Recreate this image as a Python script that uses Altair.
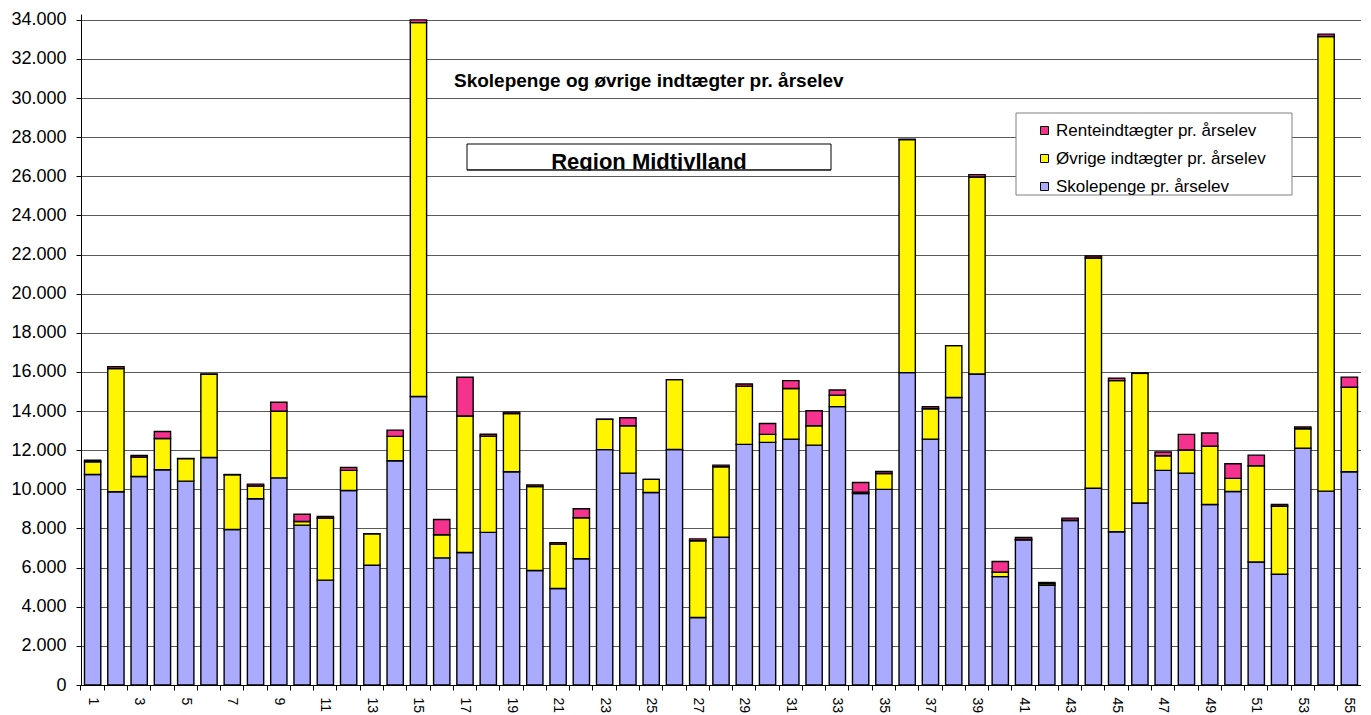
import altair as alt
import pandas as pd

# ---- data ----
skolenr = list(range(1, 56))

skolepenge = [10760, 9880, 10660, 11000, 10420, 11630, 7950, 9520, 10590, 8170,
              5360, 9940, 6120, 11460, 14750, 6500, 6770, 7800, 10900, 5850,
              4930, 6450, 12030, 10830, 9840, 12040, 3450, 7560, 12300, 12400,
              12570, 12260, 14230, 9790, 10000, 15970, 12570, 14700, 15900, 5540,
              7420, 5100, 8410, 10060, 7830, 9300, 10970, 10830, 9230, 9890,
              6290, 5660, 12110, 9910, 10900]

ovrige = [650, 6290, 990, 1600, 1150, 4250, 2800, 650, 3400, 190,
          3170, 1030, 1610, 1250, 19110, 1180, 6980, 4920, 2970, 4300,
          2270, 2100, 1550, 2420, 670, 3570, 3920, 3600, 2980, 410,
          2590, 990, 590, 70, 810, 11910, 1550, 2650, 10070, 230,
          20, 80, 20, 11770, 7730, 6630, 750, 1180, 2980, 670,
          4920, 3480, 990, 23240, 4320]

rente = [80, 100, 80, 360, 10, 20, 10, 100, 460, 370,
         80, 150, 0, 320, 140, 780, 1980, 100, 80, 80,
         80, 460, 10, 410, 0, 0, 100, 80, 110, 560,
         400, 770, 260, 490, 100, 20, 100, 0, 120, 540,
         100, 60, 100, 100, 120, 20, 190, 800, 670, 750,
         540, 90, 90, 120, 520]

series_names = ["Renteindtægter pr. årselev",
                "Øvrige indtægter pr. årselev",
                "Skolepenge pr. årselev"]
series_colors = ["#F5338F", "#FFF500", "#AAAAFF"]
y_ticks = list(range(0, 34001, 2000))
chart_title = "Skolepenge og øvrige indtægter pr. årselev"
region_label = "Region Midtjylland"

# ---- long table for the stacked bars ----
rows = []
for i, n in enumerate(skolenr):
    rows.append({"n": n, "serie": series_names[2], "v": skolepenge[i], "ord": 0})
    rows.append({"n": n, "serie": series_names[1], "v": ovrige[i], "ord": 1})
    rows.append({"n": n, "serie": series_names[0], "v": rente[i], "ord": 2})
df = pd.DataFrame(rows)

FONT = "Liberation Sans"
W, H = 1280, 671

bars = alt.Chart(df).mark_bar(stroke="black", strokeWidth=1.4).encode(
    x=alt.X(
        "n:O",
        scale=alt.Scale(paddingInner=0.3, paddingOuter=0.15),
        axis=alt.Axis(
            title=None,
            labelAngle=90,
            labelExpr="datum.value % 2 == 1 ? datum.label : ''",
            bandPosition=-0.2143,
            tickSize=5,
            tickColor="black",
            domainColor="black",
            labelFontSize=14,
            labelPadding=7,
            labelColor="black",
            labelFont=FONT,
            grid=False,
        ),
    ),
    y=alt.Y(
        "v:Q",
        stack="zero",
        scale=alt.Scale(domain=[0, 34300], nice=False, zero=True),
        axis=alt.Axis(
            title=None,
            values=y_ticks,
            labelExpr="replace(format(datum.value, ','), ',', '.')",
            labelFontSize=18,
            labelPadding=10,
            labelColor="black",
            labelFont=FONT,
            tickSize=5,
            tickColor="black",
            domainColor="black",
            grid=True,
            gridColor="#5a5a5a",
            gridWidth=1,
        ),
    ),
    color=alt.Color(
        "serie:N",
        scale=alt.Scale(domain=series_names, range=series_colors),
        legend=alt.Legend(
            title=None,
            orient="none",
            legendX=955,
            legendY=108,
            padding=0,
            symbolType="square",
            symbolSize=64,
            symbolStrokeColor="black",
            symbolStrokeWidth=1,
            labelFontSize=17,
            labelFont=FONT,
            labelColor="black",
            labelLimit=400,
            labelOffset=3,
            rowPadding=10,
        ),
    ),
    order=alt.Order("ord:Q", sort="ascending"),
)

one = pd.DataFrame({"t": [chart_title]})
reg = pd.DataFrame({"t": [region_label]})

title_text = alt.Chart(one).mark_text(
    align="left", baseline="middle", fontSize=19, fontWeight="bold", font=FONT, color="black"
).encode(x=alt.value(373), y=alt.value(67), text="t:N")

region_box = alt.Chart(reg).mark_rect(fill="white", stroke="black", strokeWidth=1).encode(
    x=alt.value(386), x2=alt.value(750), y=alt.value(130), y2=alt.value(156)
)
region_text = alt.Chart(reg).mark_text(
    align="center", baseline="alphabetic", fontSize=22, fontWeight="bold", font=FONT, color="black"
).encode(x=alt.value(568), y=alt.value(155), text="t:N")
region_cover = alt.Chart(reg).mark_rect(fill="white", stroke=None).encode(
    x=alt.value(385), x2=alt.value(751), y=alt.value(156.8), y2=alt.value(161.8)
)
region_line = alt.Chart(reg).mark_rule(color="black", strokeWidth=1).encode(
    x=alt.value(386), x2=alt.value(750), y=alt.value(156)
)

legend_box = alt.Chart(reg).mark_rect(fill="white", stroke="#808080", strokeWidth=1).encode(
    x=alt.value(935), x2=alt.value(1211), y=alt.value(99), y2=alt.value(181)
)

chart = alt.layer(
    bars, title_text, region_box, region_text, region_cover, region_line, legend_box
).properties(
    width=W, height=H,
    padding={"left": 2, "top": 2, "right": 0, "bottom": 0},
).configure_view(stroke=None)

chart.save("out.html", embed_options={"renderer": "svg", "actions": False})
